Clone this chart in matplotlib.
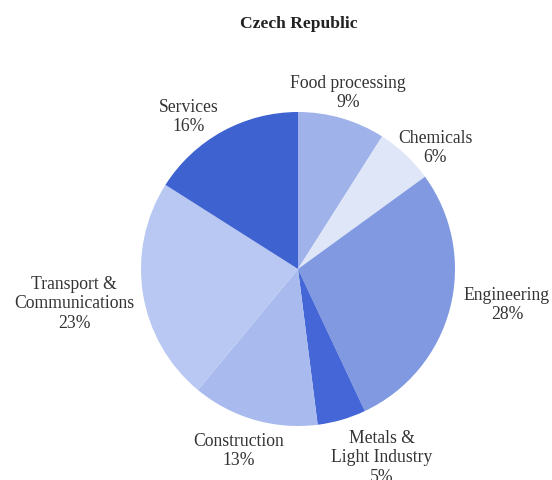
import matplotlib.pyplot as plt

# data
sectors = ["Food processing", "Chemicals", "Engineering", "Metals &\nLight Industry",
           "Construction", "Transport &\nCommunications", "Services"]
shares = [9, 6, 28, 5, 13, 23, 16]
colors = ["#9fb3ea", "#dfe6f8", "#8199e0", "#4466d6", "#a9bbee", "#b8c8f2", "#3e62d0"]

W, H = 552, 481
fig = plt.figure(figsize=(W / 100, H / 100), dpi=100)
ax = fig.add_axes([0, 0, 1, 1])

# pie centre / radius in pixel coords (y measured from the bottom)
cx, cy, r = 298, H - 270, 157
ax.pie(shares, colors=colors, startangle=90, counterclock=False,
       center=(cx, cy), radius=r, frame=True,
       wedgeprops=dict(linewidth=0))
ax.set_xlim(0, W)
ax.set_ylim(0, H)
ax.axis("off")

# label block centres (pixels from the top)
label_pos = [(348, 93), (435, 148), (507, 305), (382, 458),
             (239, 451), (74, 304), (189, 117)]
font = dict(family="Liberation Serif", size=12.7, color="#333333")
for name, val, (x, y) in zip(sectors, shares, label_pos):
    ax.text(x, H - y, f"{name}\n{val}%", ha="center", va="center",
            linespacing=1.2, **font)

ax.text(299, H - 24, "Czech Republic", ha="center", va="center",
        family="Liberation Serif", size=12.6, weight="bold", color="#222222")

fig.savefig("out.png", dpi=100)
